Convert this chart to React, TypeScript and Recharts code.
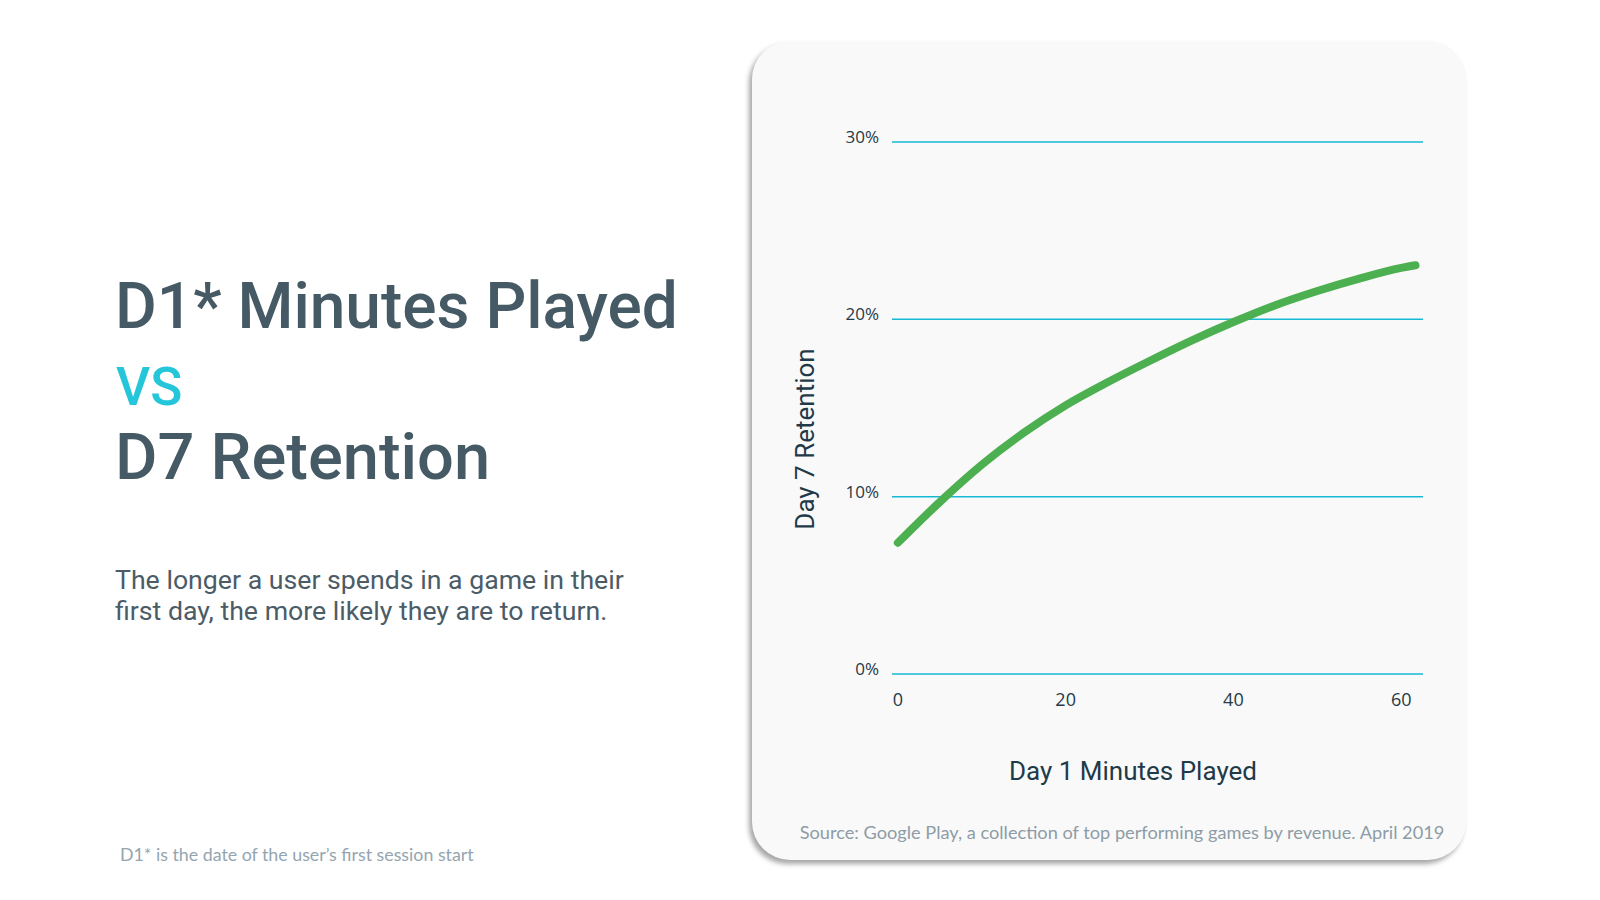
import React from "react";
import { CartesianGrid, Line, LineChart, XAxis, YAxis } from "recharts";

// D1 minutes played vs D7 retention (%)
const minutesPlayed = [0, 5, 10, 15, 20, 25, 30, 35, 40, 45, 50, 55, 60, 61.7];
const retentionPct = [7.4, 9.7, 11.8, 13.6, 15.15, 16.45, 17.65, 18.8, 19.85, 20.8, 21.6, 22.3, 22.9, 23.05];

const xTicks = [0, 20, 40, 60];
const yTicks = [0, 10, 20, 30];

const titleLines = ["D1* Minutes Played", "VS", "D7 Retention"];
const bodyLines = [
  "The longer a user spends in a game in their",
  "first day, the more likely they are to return.",
];
const footnote = "D1* is the date of the user\u2019s first session start";
const sourceNote = "Source: Google Play, a collection of top performing games by revenue. April 2019";
const xAxisTitle = "Day 1 Minutes Played";
const yAxisTitle = "Day 7 Retention";

const data = minutesPlayed.map((m, i) => ({ minutes: m, retention: retentionPct[i] }));

const SANS = "Roboto, 'Open Sans', sans-serif";
const TICK_FONT = "'Open Sans', Roboto, sans-serif";

export default function App() {
  return (
    <div
      style={{
        position: "absolute",
        left: 0,
        top: 0,
        width: 1600,
        height: 900,
        background: "#ffffff",
        overflow: "hidden",
        fontFamily: SANS,
      }}
    >
      {/* card */}
      <div
        style={{
          position: "absolute",
          left: 752,
          top: 41,
          width: 714,
          height: 819,
          borderRadius: 38,
          background: "#f9f9f9",
          boxShadow: "-3px 4px 5px rgba(0,0,0,0.35)",
        }}
      >
        <LineChart
          width={714}
          height={819}
          data={data}
          margin={{ top: 101, right: 43, left: 80, bottom: 156 }}
        >
          <CartesianGrid horizontal vertical={false} stroke="#16b9d4" strokeWidth={1.5} />
          <XAxis
            dataKey="minutes"
            type="number"
            domain={[-0.7, 62.6]}
            ticks={xTicks}
            allowDataOverflow
            axisLine={false}
            tickLine={false}
            tickMargin={13}
            height={30}
            tick={{ fill: "#263a47", fontSize: 18, fontFamily: TICK_FONT }}
          />
          <YAxis
            type="number"
            domain={[0, 30]}
            ticks={yTicks}
            axisLine={false}
            tickLine={false}
            tickMargin={7}
            width={60}
            tickFormatter={(v) => `${v}%`}
            tick={{ fill: "#263a47", fontSize: 17, fontFamily: TICK_FONT, dy: -5 }}
          />
          <Line
            type="monotone"
            dataKey="retention"
            stroke="#4caf50"
            strokeWidth={8}
            strokeLinecap="round"
            dot={false}
            activeDot={false}
            isAnimationActive={false}
          />
        </LineChart>
      </div>

      {/* slide texts */}
      <svg
        width={1600}
        height={900}
        style={{ position: "absolute", left: 0, top: 0, pointerEvents: "none" }}
      >
        <text x={115} y={328} fontSize={64} fontWeight={500} fill="#455a64" fontFamily={SANS}>
          {titleLines[0]}
        </text>
        <text x={116} y={405} fontSize={53} fontWeight={500} fill="#26c6da" fontFamily={SANS}>
          {titleLines[1]}
        </text>
        <text x={115} y={479} fontSize={65} fontWeight={500} fill="#455a64" fontFamily={SANS}>
          {titleLines[2]}
        </text>

        <text x={115} y={589} fontSize={26.7} fill="#4b5c67" fontFamily={SANS}>
          {bodyLines[0]}
        </text>
        <text x={115} y={620} fontSize={26.7} fill="#4b5c67" fontFamily={SANS}>
          {bodyLines[1]}
        </text>

        <text x={120} y={861} fontSize={17.8} fill="#94a5b0" fontFamily="Lato, sans-serif">
          {footnote}
        </text>

        <text x={1133} y={780} fontSize={26} fill="#1f3a48" textAnchor="middle" fontFamily={SANS}>
          {xAxisTitle}
        </text>
        <text
          x={814}
          y={439}
          fontSize={26}
          fill="#1f3a48"
          textAnchor="middle"
          fontFamily={SANS}
          transform="rotate(-90, 814, 439)"
        >
          {yAxisTitle}
        </text>
        <text x={1122} y={839} fontSize={18.2} fill="#8d9ca6" textAnchor="middle" fontFamily="Lato, sans-serif">
          {sourceNote}
        </text>
      </svg>
    </div>
  );
}
